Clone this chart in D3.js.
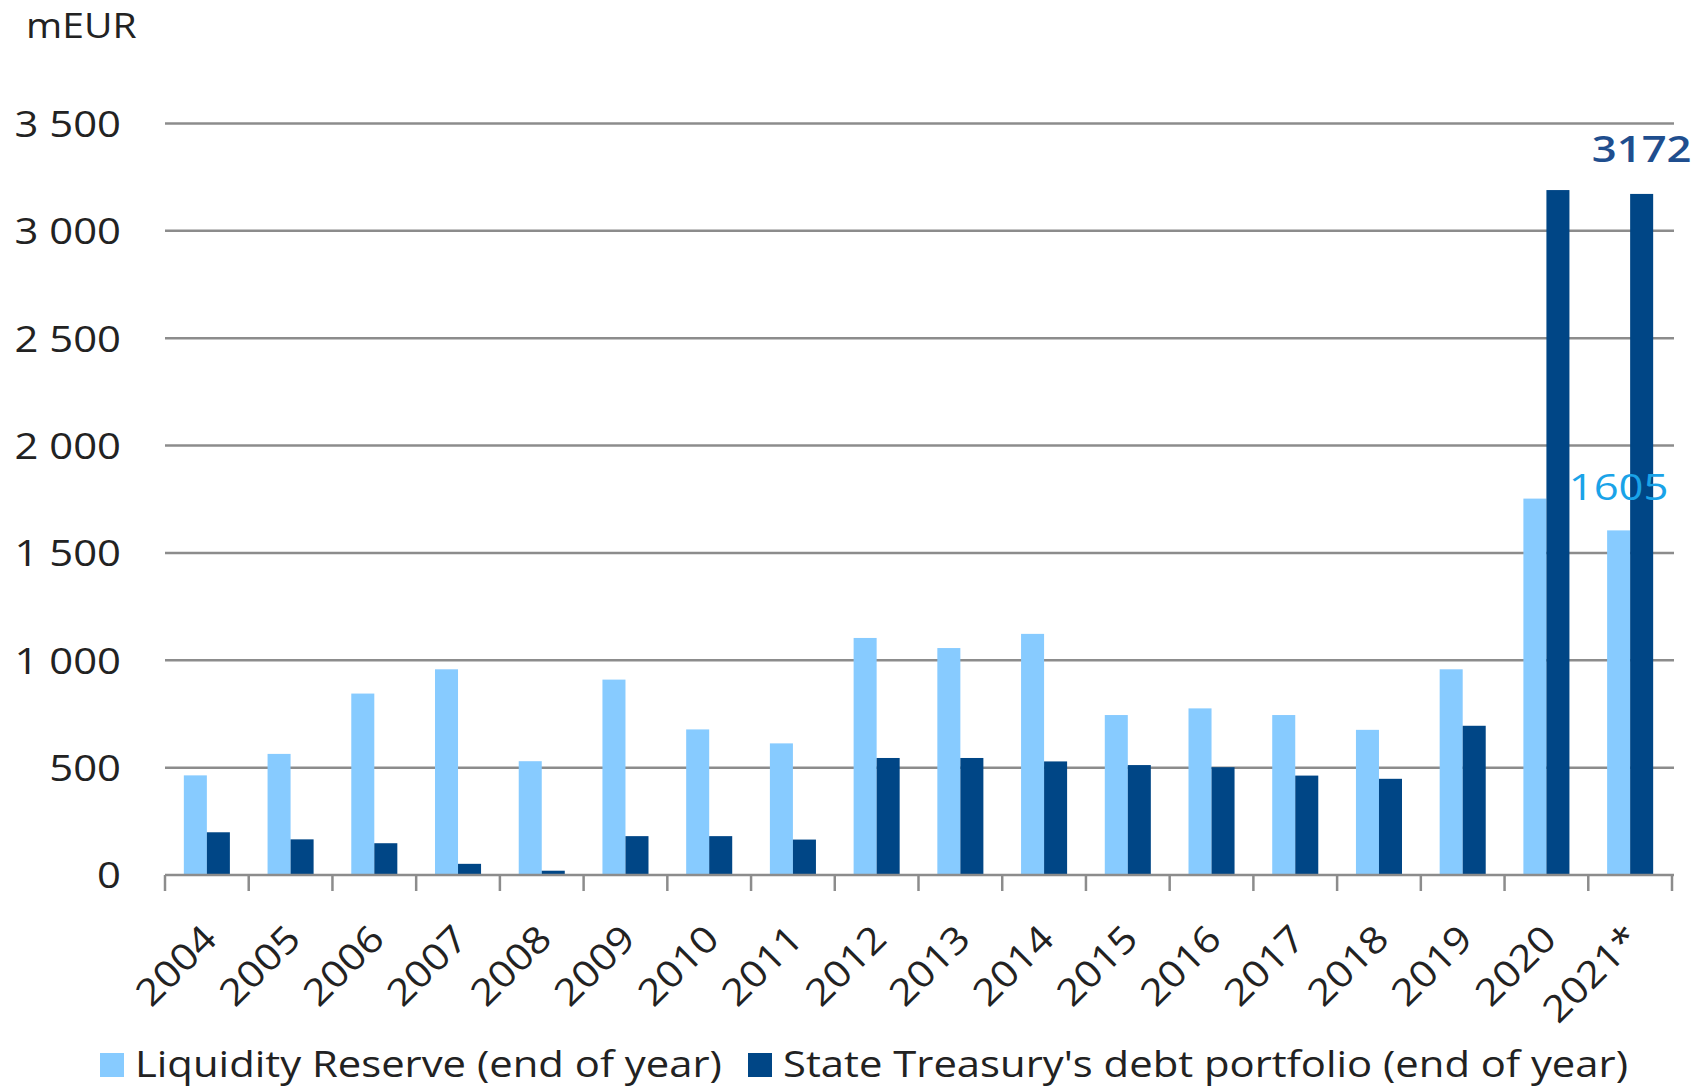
<!DOCTYPE html>
<html><head><meta charset="utf-8">
<script src="https://cdn.jsdelivr.net/npm/d3@7"></script>
<style>
html,body{margin:0;padding:0;background:#fff;}
svg{display:block;}
text{font-family:"Open Sans",sans-serif;}
</style></head>
<body>
<svg id="c" width="1699" height="1089"></svg>
<script>
const years = ["2004","2005","2006","2007","2008","2009","2010","2011","2012","2013","2014","2015","2016","2017","2018","2019","2020","2021*"];
const liquidityReserve = [464,564,845,958,530,910,678,613,1104,1057,1123,745,776,745,676,958,1753,1605];
const debtPortfolio = [199,166,148,52,20,181,181,165,545,545,529,512,502,463,448,695,3190,3172];
const seriesNames = ["Liquidity Reserve (end of year)","State Treasury's debt portfolio (end of year)"];
const yTicks = [0,500,1000,1500,2000,2500,3000,3500];
const labelled = [{series:0, year:"2021*", value:1605},{series:1, year:"2021*", value:3172}];

const colors = ["#87CBFF","#004686"];
const labelColors = ["#1AA3E8","#1F4E8E"];
const SX = 1.13; // horizontal stretch of text

const svg = d3.select("#c");
const L = 165, R = 1672, T = 123.5, B = 875;

const x = d3.scaleBand().domain(years).range([L,R]).paddingInner(0.45).paddingOuter(0.225);
const x1 = d3.scaleBand().domain([0,1]).range([0,x.bandwidth()]);
const y = d3.scaleLinear().domain([0,3500]).range([B,T]);
const fmt = v => d3.format(",")(v).replace(/,/g," ");

// gridlines
svg.append("g").selectAll("line").data(yTicks.filter(d=>d>0)).join("line")
  .attr("x1",L).attr("x2",R+2).attr("y1",d=>y(d)).attr("y2",d=>y(d))
  .attr("stroke","#8c8c8c").attr("stroke-width",2.5);

// y labels
svg.append("g").selectAll("text").data(yTicks).join("text")
  .attr("transform",d=>`translate(121,${y(d)}) scale(${SX},1)`)
  .attr("dy","0.36em")
  .attr("text-anchor","end").attr("font-size",37).attr("fill","#222")
  .text(fmt);

// bars
const g = svg.append("g");
years.forEach((yr,i)=>{
  [liquidityReserve[i],debtPortfolio[i]].forEach((v,s)=>{
    g.append("rect").attr("x",x(yr)+x1(s)).attr("width",x1.bandwidth())
      .attr("y",y(v)).attr("height",B-y(v)).attr("fill",colors[s]);
  });
});

// x axis line and ticks at band boundaries
const step = x.step();
svg.append("line").attr("x1",L).attr("x2",R+2).attr("y1",B).attr("y2",B)
  .attr("stroke","#8c8c8c").attr("stroke-width",2.5);
svg.append("g").selectAll("line").data(d3.range(years.length+1)).join("line")
  .attr("x1",i=>L+i*step).attr("x2",i=>L+i*step).attr("y1",B).attr("y2",B+16)
  .attr("stroke","#8c8c8c").attr("stroke-width",2.5);

// x labels
svg.append("g").selectAll("text").data(years).join("text")
  .attr("transform",d=>`translate(${x(d)+x.bandwidth()/2+12},${B+66}) rotate(-45) scale(${SX},1)`)
  .attr("text-anchor","end").attr("font-size",37).attr("fill","#222")
  .text(d=>d);

// data labels
svg.append("g").selectAll("text").data(labelled).join("text")
  .attr("transform",d=>`translate(${x(d.year)+x1(d.series)+x1.bandwidth()/2},${y(d.value)-(d.series===1?32:30)}) scale(1.18,1)`)
  .attr("text-anchor","middle").attr("font-size",37)
  .attr("font-weight",d=>d.series===1?"600":"normal")
  .attr("fill",d=>labelColors[d.series]).text(d=>d.value);

// unit label
svg.append("text").attr("transform",`translate(26,38) scale(1.15,1)`).attr("font-size",34).attr("fill","#222").text("mEUR");

// legend
const leg = [{x:100,s:0},{x:748,s:1}];
leg.forEach(l=>{
  svg.append("rect").attr("x",l.x).attr("y",1053).attr("width",24).attr("height",24).attr("fill",colors[l.s]);
  svg.append("text").attr("transform",`translate(${l.x+35},1064) scale(${SX},1)`).attr("dy","0.36em").attr("font-size",37).attr("fill","#222").text(seriesNames[l.s]);
});
</script>
</body></html>
